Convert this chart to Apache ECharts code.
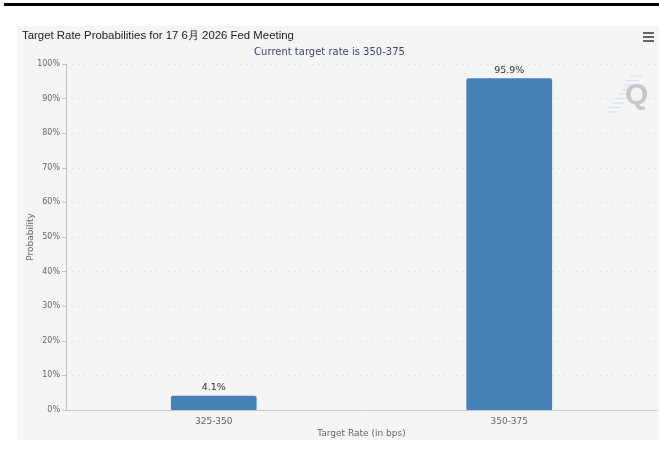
<!DOCTYPE html>
<html>
<head>
<meta charset="utf-8">
<script src="https://cdn.jsdelivr.net/npm/echarts@6/dist/echarts.min.js"></script>
<style>
  html, body { margin: 0; padding: 0; background: #ffffff; }
  #chart { width: 659px; height: 459px; }
</style>
</head>
<body>
<div id="chart"></div>
<script>
// Target rate buckets and their probabilities (%)
const categories = ['325-350', '350-375'];
const probabilities = [4.1, 95.9];
const yTicks = [0, 10, 20, 30, 40, 50, 60, 70, 80, 90, 100];

const chart = echarts.init(document.getElementById('chart'), null, { renderer: 'canvas' });

// small diagonal stripes behind the watermark letter
const stripes = [];
for (let i = 0; i < 9; i++) {
  const y = 76 + i * 4.5;
  const x = 637 - i * 3;
  stripes.push({
    type: 'line', silent: true, z: 1,
    shape: { x1: x - 7, y1: y, x2: x + 5, y2: y },
    style: { stroke: '#d3e4f1', lineWidth: 1.2 }
  });
}

chart.setOption({
  animation: false,
  backgroundColor: '#ffffff',
  title: [
    {
      text: 'Target Rate Probabilities for 17 6月 2026 Fed Meeting',
      left: 17, top: 25,
      textStyle: { fontFamily: 'Liberation Sans, Arial, sans-serif', fontSize: 11.4, fontWeight: 'normal', color: '#222' }
    },
    {
      text: 'Current target rate is 350-375',
      left: 'center', top: 42,
      textStyle: { fontFamily: 'DejaVu Sans, sans-serif', fontSize: 10, fontWeight: 'normal', color: '#3d4a6e' }
    }
  ],
  graphic: [
    { type: 'rect', silent: true, z: -10, shape: { x: 4, y: 3, width: 655, height: 3 }, style: { fill: '#000' } },
    { type: 'rect', silent: true, z: -10, shape: { x: 17, y: 26, width: 642, height: 414 }, style: { fill: '#f5f5f5' } },
    { type: 'rect', silent: true, z: 5, shape: { x: 643, y: 32, width: 11, height: 2 }, style: { fill: '#666' } },
    { type: 'rect', silent: true, z: 5, shape: { x: 643, y: 36, width: 11, height: 2 }, style: { fill: '#666' } },
    { type: 'rect', silent: true, z: 5, shape: { x: 643, y: 40, width: 11, height: 2 }, style: { fill: '#666' } },
    ...stripes,
    {
      type: 'text', silent: true, z: 2, left: 625, top: 81,
      style: { text: 'Q', font: 'bold 30px "Liberation Sans", Arial, sans-serif', fill: '#c8c8c8' }
    }
  ],
  grid: { left: 66, right: 2, top: 64, bottom: 49, containLabel: false },
  xAxis: {
    type: 'category',
    data: categories,
    name: 'Target Rate (in bps)',
    nameLocation: 'middle',
    nameGap: 19,
    nameMoveOverlap: false,
    nameTextStyle: { fontFamily: 'DejaVu Sans, sans-serif', fontSize: 9, color: '#666' },
    axisLine: { lineStyle: { color: '#c8c8c8', width: 1 } },
    axisTick: { alignWithLabel: true, length: 4, lineStyle: { color: '#c8c8c8' } },
    axisLabel: { fontFamily: 'DejaVu Sans, sans-serif', fontSize: 9, color: '#666', margin: 7 }
  },
  yAxis: {
    type: 'value',
    min: 0, max: 100, interval: 10,
    name: 'Probability',
    nameLocation: 'middle',
    nameGap: 31,
    nameMoveOverlap: false,
    nameTextStyle: { fontFamily: 'DejaVu Sans, sans-serif', fontSize: 9, color: '#666' },
    axisLine: { show: true, lineStyle: { color: '#c0c0c0', width: 1 } },
    axisTick: { show: true, length: 4, lineStyle: { color: '#c0c0c0' } },
    axisLabel: {
      fontFamily: 'DejaVu Sans, sans-serif', fontSize: 8, color: '#666', margin: 6,
      formatter: v => (yTicks.includes(v) ? v + '%' : '')
    },
    splitLine: { show: true, lineStyle: { color: '#d4d4d4', type: [1, 5], width: 1 } }
  },
  series: [{
    type: 'bar',
    data: probabilities,
    barWidth: '29%',
    itemStyle: { color: '#4580b6', borderRadius: [2, 2, 0, 0] },
    label: {
      show: true, position: 'top', distance: 3,
      fontFamily: 'DejaVu Sans, sans-serif', fontSize: 9.5, color: '#333',
      formatter: p => p.value + '%'
    }
  }]
});
</script>
</body>
</html>
